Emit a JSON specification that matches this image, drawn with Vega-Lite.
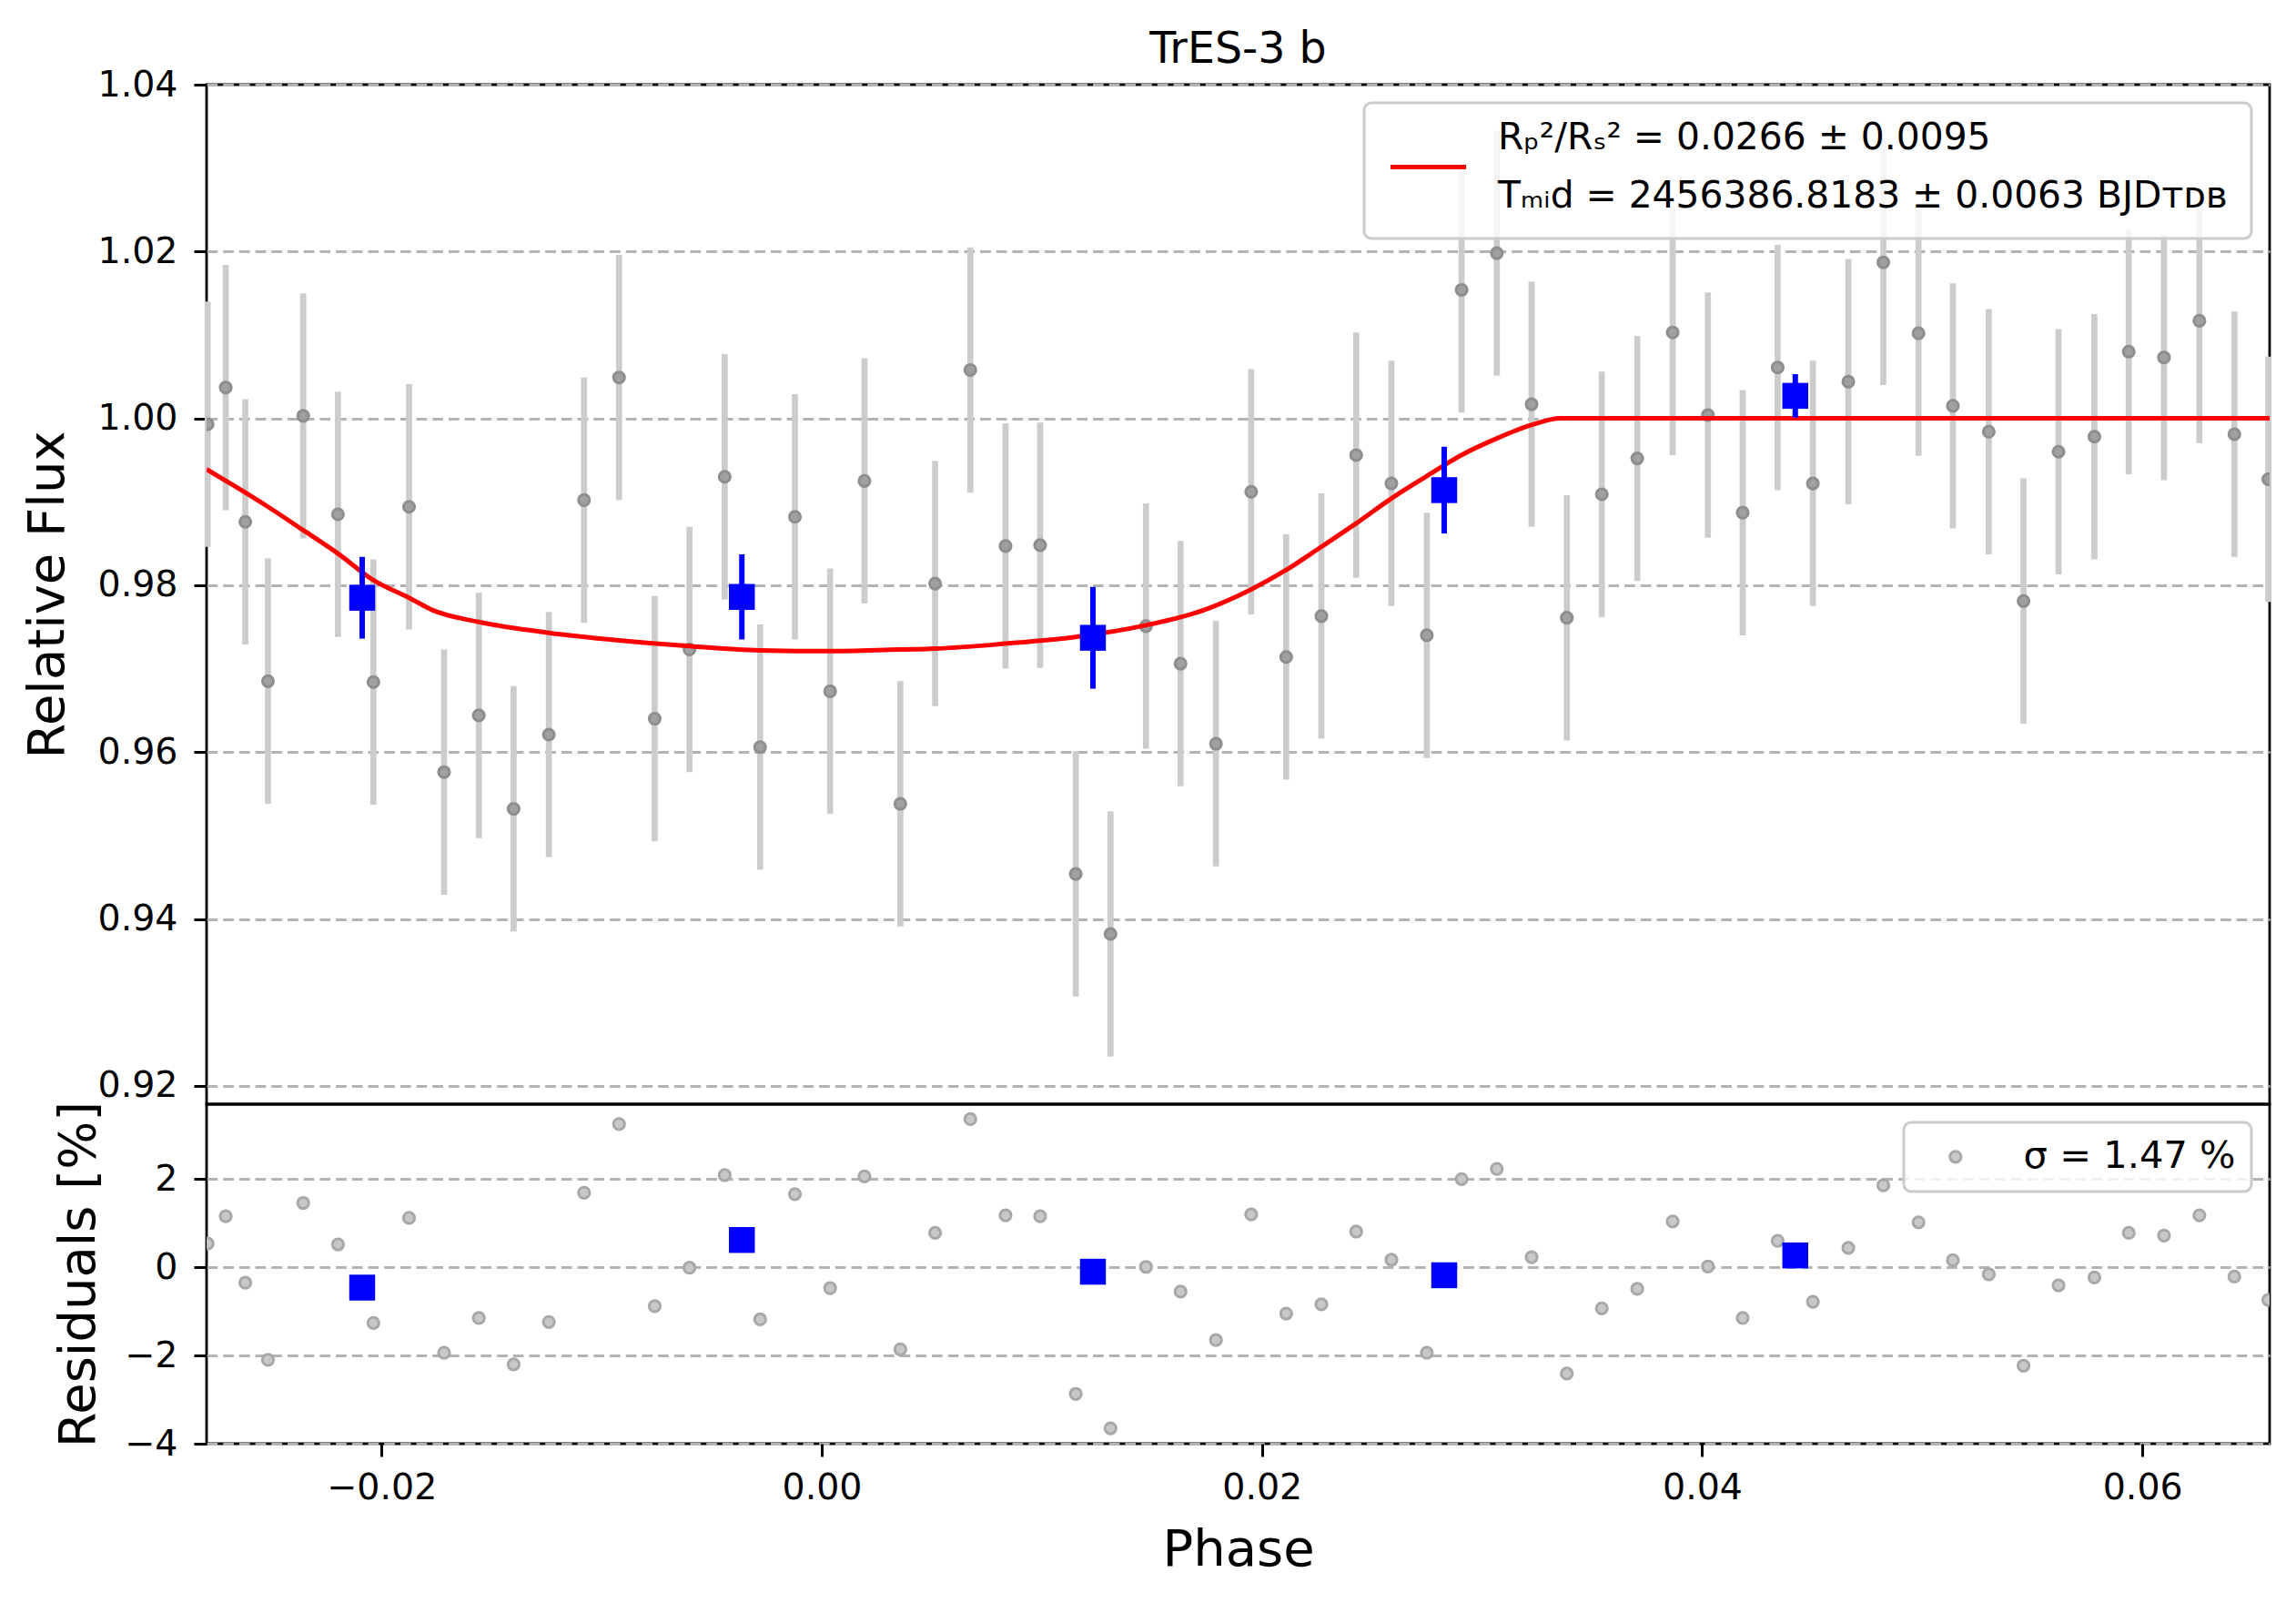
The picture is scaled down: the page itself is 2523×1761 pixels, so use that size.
{
  "$schema": "https://vega.github.io/schema/vega-lite/v6.json",
  "background": "white",
  "padding": {"left": 22, "top": 29, "right": 25, "bottom": 20},
  "bounds": "flush",
  "spacing": 0,
  "config": {
    "font": "DejaVu Sans",
    "view": {"stroke": "black", "strokeWidth": 2.8},
    "axis": {
      "domain": false,
      "tickColor": "black",
      "tickWidth": 3,
      "tickSize": 14,
      "labelPadding": 18,
      "labelFontSize": 39.5,
      "labelColor": "black",
      "titleFontSize": 56,
      "titleFontWeight": "normal",
      "titleColor": "black",
      "gridColor": "#b3b3b3",
      "gridDash": [11.7, 6],
      "gridWidth": 3.2
    },
    "legend": {
      "labelFontSize": 41.6,
      "labelColor": "black",
      "labelLimit": 3000,
      "fillColor": "rgba(255,255,255,0.8)",
      "strokeColor": "#cccccc",
      "strokeWidth": 3,
      "cornerRadius": 8,
      "orient": "top-right",
      "offset": 20,
      "title": null
    }
  },
  "datasets": {
    "raw": [
      {"phase": -0.02790, "flux": 0.9993, "err": 0.0147, "res": 0.54},
      {"phase": -0.02708, "flux": 1.0037, "err": 0.0147, "res": 1.16},
      {"phase": -0.02619, "flux": 0.9876, "err": 0.0147, "res": -0.35},
      {"phase": -0.02516, "flux": 0.9685, "err": 0.0147, "res": -2.10},
      {"phase": -0.02356, "flux": 1.0003, "err": 0.0147, "res": 1.46},
      {"phase": -0.02198, "flux": 0.9885, "err": 0.0147, "res": 0.52},
      {"phase": -0.02037, "flux": 0.9684, "err": 0.0147, "res": -1.26},
      {"phase": -0.01875, "flux": 0.9894, "err": 0.0147, "res": 1.12},
      {"phase": -0.01716, "flux": 0.9576, "err": 0.0147, "res": -1.94},
      {"phase": -0.01558, "flux": 0.9644, "err": 0.0147, "res": -1.15},
      {"phase": -0.01400, "flux": 0.9532, "err": 0.0147, "res": -2.20},
      {"phase": -0.01240, "flux": 0.9621, "err": 0.0147, "res": -1.24},
      {"phase": -0.01080, "flux": 0.9902, "err": 0.0147, "res": 1.69},
      {"phase": -0.00921, "flux": 1.0049, "err": 0.0147, "res": 3.25},
      {"phase": -0.00759, "flux": 0.9640, "err": 0.0147, "res": -0.88},
      {"phase": -0.00601, "flux": 0.9723, "err": 0.0147, "res": -0.01},
      {"phase": -0.00441, "flux": 0.9930, "err": 0.0147, "res": 2.09},
      {"phase": -0.00280, "flux": 0.9606, "err": 0.0147, "res": -1.18},
      {"phase": -0.00122, "flux": 0.9882, "err": 0.0147, "res": 1.66},
      {"phase": 0.00038, "flux": 0.9673, "err": 0.0147, "res": -0.47},
      {"phase": 0.00194, "flux": 0.9925, "err": 0.0147, "res": 2.06},
      {"phase": 0.00357, "flux": 0.9538, "err": 0.0147, "res": -1.86},
      {"phase": 0.00515, "flux": 0.9802, "err": 0.0147, "res": 0.78},
      {"phase": 0.00675, "flux": 1.0058, "err": 0.0147, "res": 3.36},
      {"phase": 0.00835, "flux": 0.9847, "err": 0.0147, "res": 1.18},
      {"phase": 0.00992, "flux": 0.9848, "err": 0.0147, "res": 1.16},
      {"phase": 0.01154, "flux": 0.9454, "err": 0.0147, "res": -2.87},
      {"phase": 0.01312, "flux": 0.9382, "err": 0.0147, "res": -3.65},
      {"phase": 0.01473, "flux": 0.9751, "err": 0.0147, "res": 0.01},
      {"phase": 0.01630, "flux": 0.9706, "err": 0.0147, "res": -0.55},
      {"phase": 0.01791, "flux": 0.9610, "err": 0.0147, "res": -1.65},
      {"phase": 0.01951, "flux": 0.9912, "err": 0.0147, "res": 1.20},
      {"phase": 0.02110, "flux": 0.9714, "err": 0.0147, "res": -1.05},
      {"phase": 0.02270, "flux": 0.9763, "err": 0.0147, "res": -0.84},
      {"phase": 0.02428, "flux": 0.9956, "err": 0.0147, "res": 0.81},
      {"phase": 0.02588, "flux": 0.9922, "err": 0.0147, "res": 0.17},
      {"phase": 0.02749, "flux": 0.9740, "err": 0.0147, "res": -1.94},
      {"phase": 0.02907, "flux": 1.0154, "err": 0.0147, "res": 2.00},
      {"phase": 0.03067, "flux": 1.0198, "err": 0.0147, "res": 2.23},
      {"phase": 0.03225, "flux": 1.0017, "err": 0.0147, "res": 0.23},
      {"phase": 0.03385, "flux": 0.9761, "err": 0.0147, "res": -2.41},
      {"phase": 0.03544, "flux": 0.9909, "err": 0.0147, "res": -0.93},
      {"phase": 0.03705, "flux": 0.9952, "err": 0.0147, "res": -0.49},
      {"phase": 0.03866, "flux": 1.0103, "err": 0.0147, "res": 1.04},
      {"phase": 0.04026, "flux": 1.0004, "err": 0.0147, "res": 0.02},
      {"phase": 0.04184, "flux": 0.9887, "err": 0.0147, "res": -1.15},
      {"phase": 0.04343, "flux": 1.0061, "err": 0.0147, "res": 0.60},
      {"phase": 0.04503, "flux": 0.9922, "err": 0.0147, "res": -0.78},
      {"phase": 0.04664, "flux": 1.0044, "err": 0.0147, "res": 0.44},
      {"phase": 0.04823, "flux": 1.0187, "err": 0.0147, "res": 1.86},
      {"phase": 0.04983, "flux": 1.0102, "err": 0.0147, "res": 1.02},
      {"phase": 0.05139, "flux": 1.0015, "err": 0.0147, "res": 0.16},
      {"phase": 0.05302, "flux": 0.9984, "err": 0.0147, "res": -0.16},
      {"phase": 0.05460, "flux": 0.9781, "err": 0.0147, "res": -2.23},
      {"phase": 0.05619, "flux": 0.9960, "err": 0.0147, "res": -0.41},
      {"phase": 0.05782, "flux": 0.9978, "err": 0.0147, "res": -0.23},
      {"phase": 0.05938, "flux": 1.0080, "err": 0.0147, "res": 0.78},
      {"phase": 0.06098, "flux": 1.0073, "err": 0.0147, "res": 0.72},
      {"phase": 0.06259, "flux": 1.0117, "err": 0.0147, "res": 1.18},
      {"phase": 0.06418, "flux": 0.9981, "err": 0.0147, "res": -0.21},
      {"phase": 0.06572, "flux": 0.9927, "err": 0.0147, "res": -0.74}
    ],
    "bins": [
      {"phase": -0.02088, "flux": 0.9785, "err": 0.0049, "res": -0.46},
      {"phase": -0.00363, "flux": 0.9786, "err": 0.0051, "res": 0.62},
      {"phase": 0.01232, "flux": 0.9737, "err": 0.0061, "res": -0.10},
      {"phase": 0.02828, "flux": 0.9914, "err": 0.0052, "res": -0.18},
      {"phase": 0.04423, "flux": 1.0027, "err": 0.0026, "res": 0.27}
    ],
    "model": [
      {"phase": -0.02795, "flux": 0.9939},
      {"phase": -0.02619, "flux": 0.9911},
      {"phase": -0.02516, "flux": 0.9894},
      {"phase": -0.02356, "flux": 0.9866},
      {"phase": -0.02198, "flux": 0.9838},
      {"phase": -0.02037, "flux": 0.9806},
      {"phase": -0.01875, "flux": 0.9785},
      {"phase": -0.01767, "flux": 0.9770},
      {"phase": -0.01558, "flux": 0.9756},
      {"phase": -0.01240, "flux": 0.9743},
      {"phase": -0.00922, "flux": 0.9734},
      {"phase": -0.00601, "flux": 0.9727},
      {"phase": -0.00281, "flux": 0.9722},
      {"phase": 0.00037, "flux": 0.9721},
      {"phase": 0.00356, "flux": 0.9723},
      {"phase": 0.00515, "flux": 0.9724},
      {"phase": 0.00835, "flux": 0.9730},
      {"phase": 0.01153, "flux": 0.9738},
      {"phase": 0.01472, "flux": 0.9752},
      {"phase": 0.01734, "flux": 0.9770},
      {"phase": 0.01951, "flux": 0.9795},
      {"phase": 0.02108, "flux": 0.9818},
      {"phase": 0.02269, "flux": 0.9846},
      {"phase": 0.02427, "flux": 0.9874},
      {"phase": 0.02588, "flux": 0.9904},
      {"phase": 0.02750, "flux": 0.9931},
      {"phase": 0.02906, "flux": 0.9956},
      {"phase": 0.03067, "flux": 0.9976},
      {"phase": 0.03224, "flux": 0.9992},
      {"phase": 0.03357, "flux": 1.0000},
      {"phase": 0.04500, "flux": 1.0000},
      {"phase": 0.06578, "flux": 1.0000}
    ]
  },
  "resolve": {
    "scale": {"x": "independent", "y": "independent", "stroke": "independent", "fill": "independent"},
    "legend": {"stroke": "independent", "fill": "independent"}
  },
  "vconcat": [
    {
      "width": 2267,
      "height": 1120,
      "title": {
        "text": "TrES-3 b",
        "anchor": "middle",
        "baseline": "alphabetic",
        "offset": -43,
        "fontSize": 47.5,
        "fontWeight": "normal",
        "color": "black"
      },
      "encoding": {
        "x": {
          "field": "phase",
          "type": "quantitative",
          "scale": {"domain": [-0.02795, 0.06578], "nice": false, "zero": false},
          "axis": null
        },
        "y": {
          "field": "flux",
          "type": "quantitative",
          "title": "Relative Flux",
          "scale": {"domain": [0.9178, 1.04], "nice": false, "zero": false},
          "axis": {
            "values": [0.92, 0.94, 0.96, 0.98, 1.0, 1.02, 1.04],
            "format": ".2f",
            "grid": true,
            "titlePadding": 26
          }
        }
      },
      "layer": [
        {
          "data": {"name": "raw"},
          "mark": {"type": "errorbar", "color": "#cccccc", "thickness": 6.7},
          "encoding": {"yError": {"field": "err"}}
        },
        {
          "data": {"name": "raw"},
          "mark": {"type": "point", "filled": true, "size": 147, "color": "#a0a0a0", "stroke": "#8e8e8e", "strokeWidth": 3, "opacity": 1, "clip": true}
        },
        {
          "data": {"name": "model"},
          "mark": {"type": "line", "strokeWidth": 5, "interpolate": "monotone", "clip": true},
          "encoding": {
            "stroke": {
              "datum": "model",
              "type": "nominal",
              "scale": {"range": ["red"]},
              "legend": {
                "symbolType": "stroke",
                "symbolSize": 6900,
                "symbolStrokeWidth": 5,
                "symbolStrokeColor": "red",
                "labelOffset": 32,
                "labelFontSize": 40.8,
                "padding": 26,
                "labelExpr": "['Rₚ²/Rₛ² = 0.0266 ± 0.0095', 'Tₘᵢd = 2456386.8183 ± 0.0063 BJDᴛᴅʙ']",
                "encode": {"labels": {"update": {"lineHeight": {"value": 64}, "dy": {"value": -32}}}}
              }
            }
          }
        },
        {
          "data": {"name": "bins"},
          "mark": {"type": "errorbar", "color": "blue", "thickness": 6},
          "encoding": {"yError": {"field": "err"}}
        },
        {
          "data": {"name": "bins"},
          "mark": {"type": "square", "filled": true, "size": 810, "color": "blue", "opacity": 1}
        }
      ]
    },
    {
      "width": 2267,
      "height": 373,
      "encoding": {
        "x": {
          "field": "phase",
          "type": "quantitative",
          "title": "Phase",
          "scale": {"domain": [-0.02795, 0.06578], "nice": false, "zero": false},
          "axis": {
            "values": [-0.02, 0, 0.02, 0.04, 0.06],
            "format": ".2f",
            "grid": false,
            "labelPadding": 15,
            "titlePadding": 22
          }
        },
        "y": {
          "field": "res",
          "type": "quantitative",
          "title": "Residuals [%]",
          "scale": {"domain": [-4, 3.7], "nice": false, "zero": false},
          "axis": {
            "values": [-4, -2, 0, 2],
            "format": "d",
            "grid": true,
            "titlePadding": 21
          }
        }
      },
      "layer": [
        {
          "data": {"name": "raw"},
          "mark": {"type": "circle", "size": 150, "stroke": "#a8a8a8", "strokeWidth": 3, "opacity": 1, "clip": true},
          "encoding": {
            "fill": {
              "datum": "res",
              "type": "nominal",
              "scale": {"range": ["#c8c8c8"]},
              "legend": {
                "symbolType": "circle",
                "symbolSize": 150,
                "symbolFillColor": "#c8c8c8",
                "symbolStrokeColor": "#a8a8a8",
                "symbolStrokeWidth": 3,
                "symbolOffset": 19,
                "labelOffset": 54,
                "padding": 17,
                "labelExpr": "'σ = 1.47 %'"
              }
            }
          }
        },
        {
          "data": {"name": "bins"},
          "mark": {"type": "square", "filled": true, "size": 810, "color": "blue", "opacity": 1}
        }
      ]
    }
  ]
}
